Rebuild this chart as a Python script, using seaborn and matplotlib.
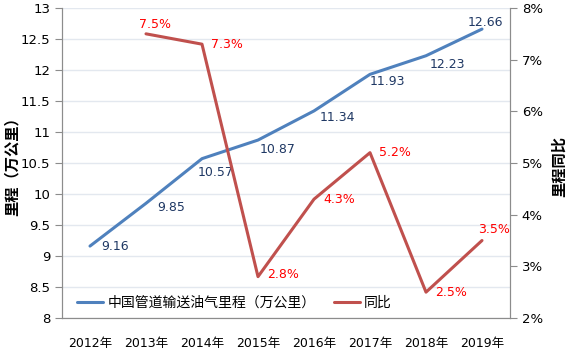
import matplotlib
matplotlib.use("Agg")
import matplotlib.pyplot as plt
import seaborn as sns
import pandas as pd
from matplotlib.ticker import FuncFormatter, MultipleLocator

years = ['2012年', '2013年', '2014年', '2015年', '2016年', '2017年', '2018年', '2019年']
mileage = [9.16, 9.85, 10.57, 10.87, 11.34, 11.93, 12.23, 12.66]
yoy = [None, 7.5, 7.3, 2.8, 4.3, 5.2, 2.5, 3.5]

sns.set_style("white")
plt.rcParams['font.family'] = ['DejaVu Sans', 'Noto Sans CJK SC']
plt.rcParams['text.color'] = 'black'
plt.rcParams['xtick.labelcolor'] = 'black'
plt.rcParams['ytick.labelcolor'] = 'black'
plt.rcParams['axes.labelcolor'] = 'black'

df = pd.DataFrame({'x': range(len(years)), 'year': years, 'mileage': mileage, 'yoy': yoy})

blue = '#4F81BD'
red = '#C0504D'
grey = '#8C8C8C'

fig = plt.figure(figsize=(5.68, 3.59), dpi=100)
ax = fig.add_axes([62 / 568, 1 - 318 / 359, 448 / 568, 310 / 359])
ax2 = ax.twinx()

sns.lineplot(data=df, x='x', y='mileage', ax=ax, color=blue, linewidth=2.2,
             label='中国管道输送油气里程（万公里）', legend=False)
sns.lineplot(data=df.dropna(), x='x', y='yoy', ax=ax2, color=red, linewidth=2.2,
             label='同比', legend=False)

ax.set_xlim(-0.5, len(years) - 0.5)
ax.set_ylim(8, 13)
ax.yaxis.set_major_locator(MultipleLocator(0.5))
ax.yaxis.set_major_formatter(FuncFormatter(lambda v, p: f'{v:g}'))
ax2.set_ylim(2, 8)
ax2.yaxis.set_major_locator(MultipleLocator(1))
ax2.yaxis.set_major_formatter(FuncFormatter(lambda v, p: f'{v:.0f}%'))

ax.grid(axis='y', color='#E3E8EF', linewidth=1)
ax.set_axisbelow(True)

# category labels at centers, ticks at boundaries
ax.set_xticks(range(len(years)))
ax.set_xticklabels(years, fontsize=9)
ax.tick_params(axis='x', length=0, pad=14)
ax.set_xticks([i - 0.5 for i in range(len(years) + 1)], minor=True)
ax.tick_params(axis='x', which='minor', length=5, color=grey)
ax.tick_params(axis='y', labelsize=9.5, length=5, color=grey, direction='out', left=True)
ax2.tick_params(axis='y', labelsize=9.5, length=5, color=grey, direction='out', right=True)

for a in (ax, ax2):
    a.spines['top'].set_visible(False)
    for s in ('left', 'right', 'bottom'):
        a.spines[s].set_color(grey)

ax.set_xlabel('')
ax.set_ylabel('里程（万公里）', fontsize=11, fontweight='bold')
ax.yaxis.set_label_coords(-42 / 448, 0.5)
ax2.set_ylabel('里程同比', fontsize=11, fontweight='bold', rotation=90)
ax2.yaxis.set_label_coords(1 + 42 / 448, 0.49)

# data labels (offsets in pixels)
blue_off = [(25, 0), (25, -4), (14, -14), (20, -9), (23, -7), (17, -7), (21, -9), (3, 7)]
for i, v in enumerate(mileage):
    dx, dy = blue_off[i]
    ax.annotate(f'{v:.2f}', (i, v), xytext=(dx, dy), textcoords='offset pixels',
                ha='center', va='center', fontsize=9, color='#1F3864')

red_off = [None, (9, 9), (25, 0), (25, 2), (25, 0), (25, 0), (25, 0), (12, 11)]
for i, v in enumerate(yoy):
    if v is None:
        continue
    dx, dy = red_off[i]
    ax2.annotate(f'{v:.1f}%', (i, v), xytext=(dx, dy), textcoords='offset pixels',
                 ha='center', va='center', fontsize=9, color='#FF0000')

h1, l1 = ax.get_legend_handles_labels()
h2, l2 = ax2.get_legend_handles_labels()
ax.legend(h1 + h2, l1 + l2, loc='center left', bbox_to_anchor=(12 / 448, 15 / 310), ncol=2,
          frameon=False, fontsize=10, handlelength=1.9, handletextpad=0.3,
          columnspacing=1.3, borderpad=0.2, borderaxespad=0)

fig.savefig('out.png', dpi=100)
